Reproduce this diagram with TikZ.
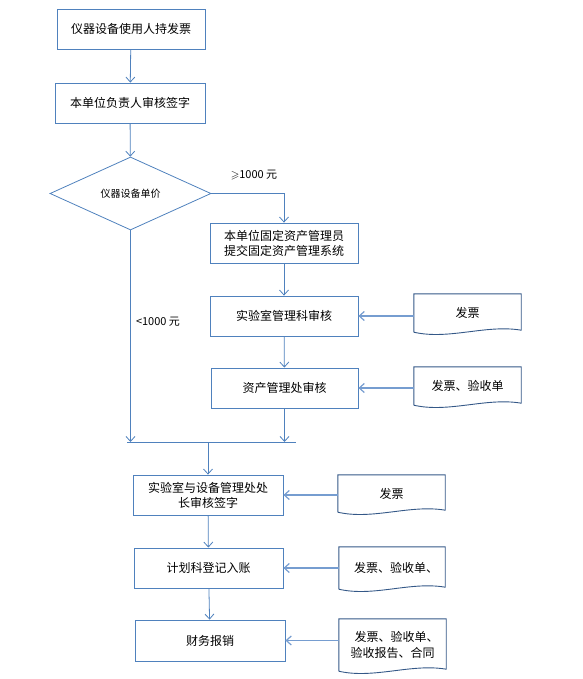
\documentclass[tikz,border=0pt]{standalone}
\usepackage{amssymb}
\usepackage{fontspec}
\setmainfont{Noto Sans CJK SC}
\usetikzlibrary{arrows.meta, shapes.geometric, positioning}

\definecolor{boxblue}{RGB}{79,129,189}
\definecolor{docblue}{RGB}{52,88,135}
\definecolor{feedblue}{RGB}{118,157,208}

% outline of a document: wavy lower edge
\newcommand{\docwave}[1]{%
	\draw[doc line] (#1.south west) -- (#1.north west) -- (#1.north east)
	-- ([yshift=2pt]#1.south east)
	.. controls +(-35,-6) and +(35,8) .. (#1.south west);}

\begin{document}
\begin{tikzpicture}[
	x=1pt, y=-1pt,
	flow box/.style={draw=boxblue, line width=0.8pt, fill=white, minimum width=148,
		minimum height=40, inner sep=2pt, align=center, font=\fontsize{12}{15}\selectfont},
	decision/.style={diamond, draw=boxblue, line width=0.8pt, minimum width=161,
		minimum height=73, inner sep=0pt, font=\fontsize{10}{12}\selectfont},
	doc box/.style={minimum width=107, minimum height=38, inner sep=2pt,
		align=center, font=\fontsize{12}{16}\selectfont},
	doc line/.style={docblue, line width=0.9pt},
	flow arrow/.style={boxblue, line width=0.8pt, -{Straight Barb[length=5pt, width=9pt]}},
	flow line/.style={boxblue, line width=0.8pt},
	feed arrow/.style={feedblue, line width=1.2pt, -{Straight Barb[length=5pt, width=9pt]}},
	cond label/.style={font=\fontsize{11}{13}\selectfont},
	]
	\useasboundingbox (0,0) rectangle (582,679);
	
	% main chain
	\node[flow box] (hold) at (131,29) {仪器设备使用人持发票};
	\node[flow box, minimum width=150] (sign) at (130,103) {本单位负责人审核签字};
	\node[decision] (price) at (130.5,193.5) {仪器设备单价};
	
	% >= 1000 branch
	\node[flow box] (submit) at (284,243) {本单位固定资产管理员\\提交固定资产管理系统};
	\node[flow box] (labchk) at (284,316) {实验室管理科审核};
	\node[flow box, minimum width=147] (assetchk) at (284.5,388) {资产管理处审核};
	
	% after merge
	\node[flow box, minimum width=150] (headchk) at (208,495) {实验室与设备管理处处\\长审核签字};
	\node[flow box, minimum width=149] (ledger) at (208.5,568) {计划科登记入账};
	\node[flow box, minimum width=150, minimum height=41] (finance) at (210,640.5) {财务报销};
	
	% documents
	\node[doc box] (inv1) at (467.5,313) {发票};
	\node[doc box] (inv2) at (467.5,386) {发票、验收单};
	\node[doc box, minimum height=37] (inv3) at (391.5,493.5) {发票};
	\node[doc box, minimum width=106, minimum height=42] (inv4) at (392,568) {\hspace*{8pt}发票、验收单、};
	\node[doc box, minimum height=52] (inv5) at (392.5,645) {\hspace*{8pt}发票、验收单、\\验收报告、合同};
	\foreach \d in {inv1, inv2, inv3, inv4, inv5}
	\docwave{\d};
	
	% merge bar
	\coordinate (barL) at (127,442);
	\coordinate (barR) at (296,442);
	\draw[flow line] (barL) -- (barR);
	
	% connectors
	\draw[flow arrow] (hold) -- (sign);
	\draw[flow arrow] (sign) -- (price);
	\draw[flow arrow] (price.east) -| (submit.north);
	\draw[flow arrow] (submit) -- (labchk);
	\draw[flow arrow] (labchk) -- (assetchk);
	\draw[flow arrow] (assetchk.south) -- (assetchk.south |- barL);
	\draw[flow arrow] (price.south) -- (price.south |- barL);
	\draw[flow arrow] (headchk.north |- barL) -- (headchk.north);
	\draw[flow arrow] (headchk) -- (ledger);
	\draw[flow arrow] (ledger) -- (finance);
	
	\draw[feed arrow] (inv1.west |- labchk) -- (labchk.east);
	\draw[feed arrow] (inv2.west |- assetchk) -- (assetchk.east);
	\draw[feed arrow] (inv3.west |- headchk) -- (headchk.east);
	\draw[feed arrow] (inv4.west |- ledger) -- (ledger.east);
	\draw[feed arrow] (inv5.west |- finance) -- (finance.east);
	
	% branch labels
	\node[cond label] (geq) at (254,175) {$\geqslant$1000 元};
	\node[cond label] (lt) at (158,322) {<1000 元};
	
\end{tikzpicture}
\end{document}
